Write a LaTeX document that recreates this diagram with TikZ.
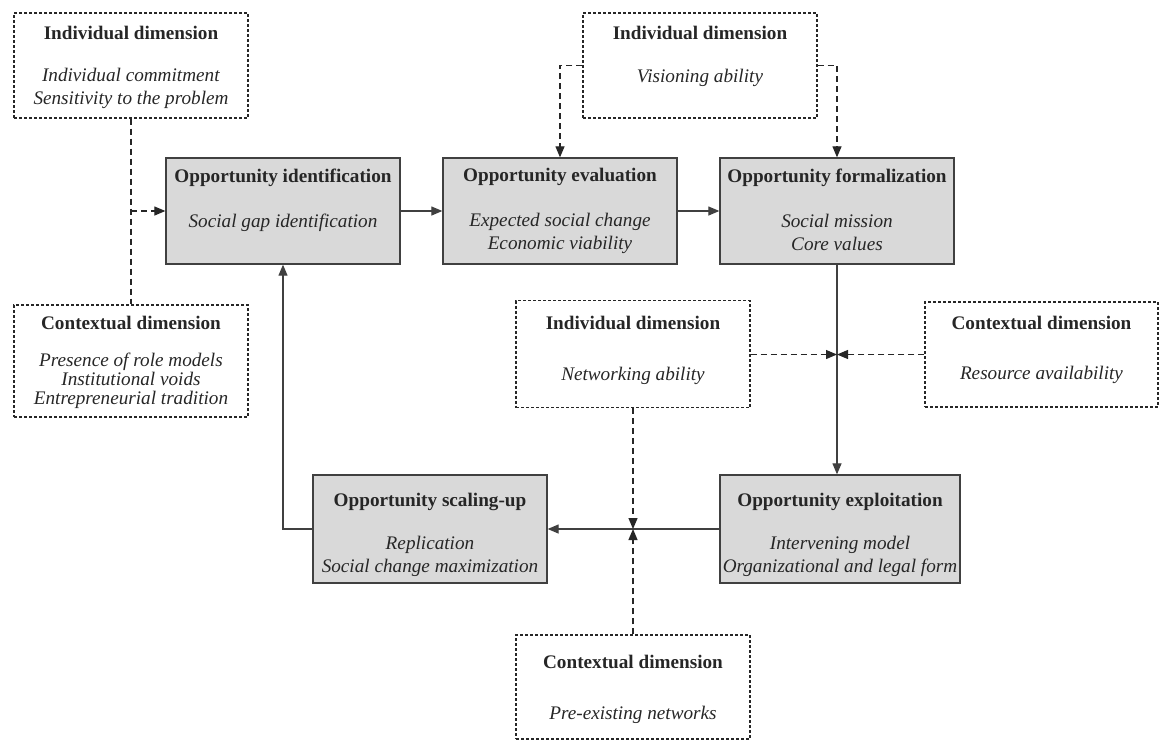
\documentclass[tikz,border=0pt]{standalone}
\usepackage{fontspec}
\setmainfont{Liberation Serif}
\usetikzlibrary{positioning, arrows.meta}
\tikzset{
	stagebox/.style={draw=black!75, line width=1.3pt, fill=black!15, minimum width=234pt, minimum height=106pt, inner sep=0pt}
}
\tikzset{
	dimbox/.style={draw=black!85, line width=1.3pt, dash pattern=on 3pt off 2pt, minimum width=234pt, minimum height=105pt, inner sep=0pt}
}
\tikzset{
	boxtext/.style={align=center, inner sep=0pt, text=black!85, font=\fontsize{19.2}{23}\selectfont}
}
\tikzset{
	flow/.style={draw=black!75, line width=1.2pt, -{Triangle[length=11pt,width=9pt]}},
	cue/.style={draw=black!85, line width=1.2pt, dash pattern=on 6pt off 4pt},
	cuearrow/.style={cue, -{Triangle[length=11pt,width=9pt]}}
}

\begin{document}
\begin{tikzpicture}[x=1pt, y=-1pt]
  \useasboundingbox (0,0) rectangle (1160,740);
  % stages
  \node[stagebox] (ident) at (283,211) {};
  \node[stagebox] (evalu) at (560,211) {};
  \node[stagebox] (formal) at (837,211) {};
  \node[stagebox, minimum width=240pt, minimum height=108pt] (exploit) at (840,529) {};
  \node[stagebox, minimum height=108pt] (scale) at (430,529) {};
  \node[boxtext, below=11pt of ident.north] (identtxt) {\textbf{Opportunity identification}\\[22pt]\textit{Social gap identification}};
  \node[boxtext, below=11pt of evalu.north] (evalutxt) {\textbf{Opportunity evaluation}\\[22pt]\textit{Expected social change}\\\textit{Economic viability}};
  \node[boxtext, below=11pt of formal.north] (formaltxt) {\textbf{Opportunity formalization}\\[22pt]\textit{Social mission}\\\textit{Core values}};
  \node[boxtext, below=19pt of exploit.north] (exploittxt) {\textbf{Opportunity exploitation}\\[20pt]\textit{Intervening model}\\\textit{Organizational and legal form}};
  \node[boxtext, below=19pt of scale.north] (scaletxt) {\textbf{Opportunity scaling-up}\\[20pt]\textit{Replication}\\\textit{Social change maximization}};
  % dimensions
  \node[dimbox] (indA) at (131,65.5) {};
  \node[dimbox, minimum height=112pt] (ctxA) at (131,361) {};
  \node[dimbox] (indB) at (700,65.5) {};
  \node[dimbox, minimum height=107pt] (indC) at (633,354) {};
  \node[dimbox, minimum width=233pt] (ctxC) at (1041.5,354.5) {};
  \node[dimbox, minimum height=104pt] (ctxD) at (633,687) {};
  \node[boxtext, below=14pt of indA.north] (indAtxt) {\textbf{Individual dimension}\\[19pt]\textit{Individual commitment}\\\textit{Sensitivity to the problem}};
  \node[boxtext, below=12pt of ctxA.north] (ctxAtxt) {\textbf{Contextual dimension}\\[14pt]\textit{Presence of role models}\\[-4pt]\textit{Institutional voids}\\[-4pt]\textit{Entrepreneurial tradition}};
  \node[boxtext, below=14pt of indB.north] (indBtxt) {\textbf{Individual dimension}\\[20pt]\textit{Visioning ability}};
  \node[boxtext, below=16.5pt of indC.north] (indCtxt) {\textbf{Individual dimension}\\[28pt]\textit{Networking ability}};
  \node[boxtext, below=15pt of ctxC.north] (ctxCtxt) {\textbf{Contextual dimension}\\[27pt]\textit{Resource availability}};
  \node[boxtext, below=21pt of ctxD.north] (ctxDtxt) {\textbf{Contextual dimension}\\[28pt]\textit{Pre-existing networks}};
  % process flow
  \draw[flow] (ident) -- (evalu);
  \draw[flow] (evalu) -- (formal);
  \draw[flow] (formal.south) -- (formal.south |- exploit.north);
  \draw[flow] (exploit) -- (scale);
  \draw[flow] (scale.west) -| (ident.south);
  % influences
  \draw[cue] (indA) -- (ctxA);
  \draw[cuearrow] (indA.south |- ident.west) -- (ident.west);
  \draw[cuearrow] (indB.west) -| (evalu.north);
  \draw[cuearrow] (indB.east) -| (formal.north);
  \coordinate (meetR) at (formal.south |- ctxC.west);
  \draw[cuearrow] (indC.east |- meetR) -- (meetR);
  \draw[cuearrow] (ctxC.west) -- (meetR);
  \coordinate (meetB) at (indC.south |- scale.east);
  \draw[cuearrow] (indC.south) -- (meetB);
  \draw[cuearrow] (ctxD.north) -- (meetB);
\end{tikzpicture}
\end{document}
